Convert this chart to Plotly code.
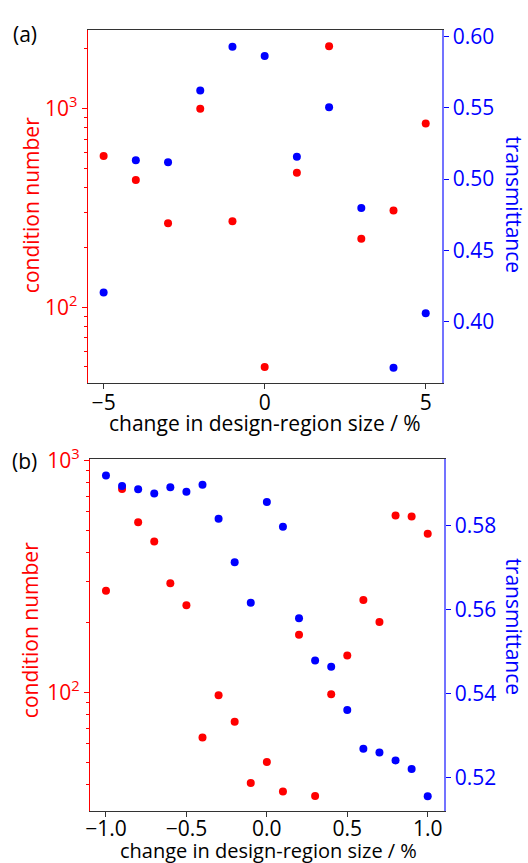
import math
import plotly.graph_objects as go

# ---------------- data ----------------
# panel (a)
xa = [-5, -4, -3, -2, -1, 0, 1, 2, 3, 4, 5]
cond_a = [577, 437, 265, 1000, 271, 50, 476, 2065, 221, 307, 843]
trans_a = [0.4206, 0.5132, 0.5118, 0.562, 0.5927, 0.5863, 0.5157, 0.5503, 0.4797, 0.368, 0.406]

# panel (b)
xb = [-1.0, -0.9, -0.8, -0.7, -0.6, -0.5, -0.4, -0.3, -0.2, -0.1, 0.0,
      0.1, 0.2, 0.3, 0.4, 0.5, 0.6, 0.7, 0.8, 0.9, 1.0]
cond_b = [274, 751, 541, 447, 295, 237, 63.9, 97, 74.7, 40.6, 50.1,
          37.4, 177, 35.7, 98, 144, 250, 201, 578, 572, 482]
trans_b = [0.5919, 0.5894, 0.5886, 0.5876, 0.5891, 0.5880, 0.5897, 0.5816, 0.5712, 0.5616, 0.5856,
           0.5797, 0.5579, 0.5478, 0.5463, 0.5360, 0.5268, 0.5259, 0.5240, 0.5220, 0.5155]

log_major = [100, 1000]
log_major_text = ["10<sup>2</sup>", "10<sup>3</sup>"]
log_minor = [30, 40, 50, 60, 70, 80, 90, 200, 300, 400, 500, 600, 700, 800, 900, 2000]
xticks_a = [-5, 0, 5]
xticktext_a = ["\u22125", "0", "5"]
xticks_b = [-1.0, -0.5, 0.0, 0.5, 1.0]
xticktext_b = ["\u22121.0", "\u22120.5", "0.0", "0.5", "1.0"]
tticks_a = [0.40, 0.45, 0.50, 0.55, 0.60]
tticks_b = [0.52, 0.54, 0.56, 0.58]

xlabel = "change in design-region size / %"
ylabel_l = "condition number"
ylabel_r = "transmittance"

# ---------------- style ----------------
W, H = 528, 863
FONT = "Open Sans"
FS = 21
RED = "#ff0000"
BLUE = "#0000ff"
RSPINE = "rgba(0,0,255,0.55)"
BLACK = "#000000"

def px_x(v):
    return v / W

def px_y(v):
    return 1 - v / H

fig = go.Figure()

fig.add_trace(go.Scatter(x=xa, y=cond_a, mode="markers", xaxis="x", yaxis="y",
                         marker=dict(color=RED, size=8), showlegend=False))
fig.add_trace(go.Scatter(x=xa, y=trans_a, mode="markers", xaxis="x", yaxis="y2",
                         marker=dict(color=BLUE, size=8), showlegend=False))
fig.add_trace(go.Scatter(x=xb, y=cond_b, mode="markers", xaxis="x2", yaxis="y3",
                         marker=dict(color=RED, size=8), showlegend=False))
fig.add_trace(go.Scatter(x=xb, y=trans_b, mode="markers", xaxis="x2", yaxis="y4",
                         marker=dict(color=BLUE, size=8), showlegend=False))

tickfont_k = dict(family=FONT, size=FS, color=BLACK)
tickfont_r = dict(family=FONT, size=FS, color=RED)
tickfont_b = dict(family=FONT, size=FS, color=BLUE)

dom_xa = [px_x(83.3), px_x(441)]
dom_ya = [px_y(374), px_y(14.3)]
dom_xb = [px_x(85.7), px_x(443)]
dom_yb = [px_y(810.3), px_y(451)]

common_x = dict(showgrid=False, zeroline=False, showline=True, linecolor="#333333", linewidth=1,
                mirror=True, ticks="outside", ticklen=5, tickcolor="#333333", tickfont=tickfont_k)

fig.update_layout(
    width=W, height=H, margin=dict(l=0, r=0, t=0, b=0),
    paper_bgcolor="white", plot_bgcolor="white",
    xaxis=dict(domain=dom_xa, anchor="y", range=[-5.5, 5.5], ticklabelstandoff=-4,
               tickvals=xticks_a, ticktext=xticktext_a, **common_x),
    yaxis=dict(domain=dom_ya, anchor="x", type="log",
               range=[1.618, 3.396], showgrid=False, zeroline=False,
               showline=True, linecolor=RED, linewidth=1,
               ticks="outside", ticklen=5, tickcolor=RED,
               tickvals=log_major, ticktext=log_major_text, tickfont=tickfont_r,
               minor=dict(tickvals=log_minor, ticks="outside", ticklen=3, tickcolor=RED)),
    yaxis2=dict(domain=dom_ya, anchor="x", overlaying="y", side="right",
                range=[0.3572, 0.6044], showgrid=False, zeroline=False,
                showline=True, linecolor=RSPINE, linewidth=1.5,
                ticks="outside", ticklen=5, tickcolor=BLUE,
                tickvals=tticks_a, tickformat=".2f", tickfont=tickfont_b),
    xaxis2=dict(domain=dom_xb, anchor="y3", range=[-1.1, 1.1], ticklabelstandoff=-6,
                tickvals=xticks_b, ticktext=xticktext_b, **common_x),
    yaxis3=dict(domain=dom_yb, anchor="x2", type="log",
                range=[math.log10(30.7), 3.007], showgrid=False, zeroline=False,
                showline=True, linecolor=RED, linewidth=1,
                ticks="outside", ticklen=5, tickcolor=RED,
                tickvals=log_major, ticktext=log_major_text, tickfont=tickfont_r,
                minor=dict(tickvals=log_minor, ticks="outside", ticklen=3, tickcolor=RED)),
    yaxis4=dict(domain=dom_yb, anchor="x2", overlaying="y3", side="right",
                range=[0.5119, 0.5959], showgrid=False, zeroline=False,
                showline=True, linecolor=RSPINE, linewidth=1.5,
                ticks="outside", ticklen=5, tickcolor=BLUE,
                tickvals=tticks_b, tickformat=".2f", tickfont=tickfont_b),
)

def ann(text, x, y, color=BLACK, angle=0, size=FS):
    fig.add_annotation(text=text, x=px_x(x), y=px_y(y), xref="paper", yref="paper",
                       showarrow=False, textangle=angle, xanchor="center", yanchor="middle",
                       borderpad=0, font=dict(family=FONT, size=size, color=color))

ann(xlabel, 262, 415)
ann(xlabel, 266, 850, size=20)
ann(ylabel_l, 27, 193, RED, -90)
ann(ylabel_l, 26, 626, RED, -90)
ann(ylabel_r, 513, 192, BLUE, 90)
ann(ylabel_r, 513, 622, BLUE, 90)
ann("(a)", 20, 18)
ann("(b)", 20, 453)

fig.write_html("out.html")
